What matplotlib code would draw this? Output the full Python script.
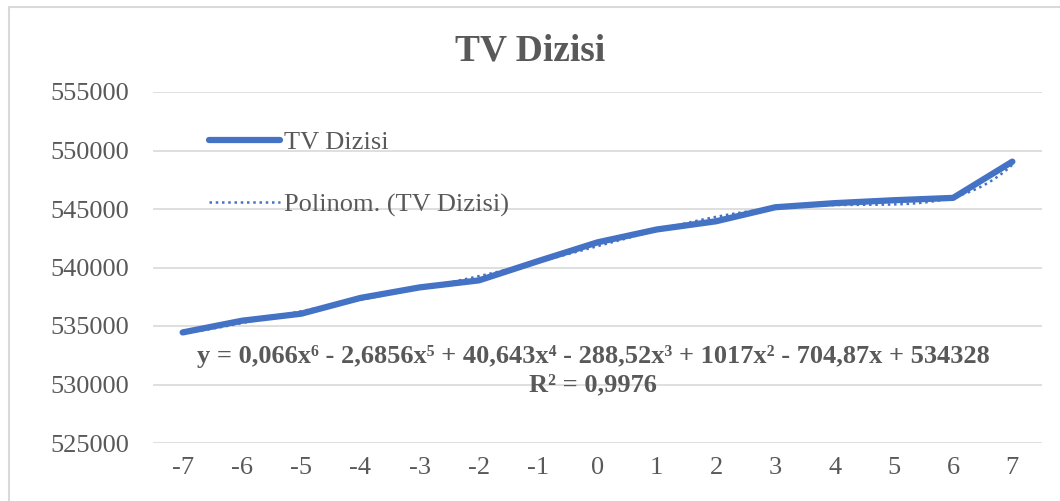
import numpy as np
import matplotlib
matplotlib.use("Agg")
import matplotlib.pyplot as plt
from matplotlib.patches import Rectangle

# veriler
x_labels = [-7, -6, -5, -4, -3, -2, -1, 0, 1, 2, 3, 4, 5, 6, 7]
tv_dizisi = [534450, 535450, 536050, 537400, 538300, 538900, 540550,
             542150, 543250, 543950, 545150, 545500, 545750, 545950, 549050]
# Excel polinom trend katsayilari (x = 1..15)
poly_coef = [0.066, -2.6856, 40.643, -288.52, 1017, -704.87, 534328]
y_ticks = [525000, 530000, 535000, 540000, 545000, 550000, 555000]

plt.rcParams['font.family'] = ['Liberation Serif', 'DejaVu Serif']
blue = '#4472C4'
gray = '#595959'

fig = plt.figure(figsize=(10.6, 5.01), dpi=100)
ax = fig.add_axes([153/1060, 1 - 443/501, (1042 - 153)/1060, (443 - 92)/501])

idx = np.arange(len(x_labels))
ax.plot(idx, tv_dizisi, color=blue, lw=4.5, solid_capstyle='round', label='TV Dizisi', zorder=3)

xs = np.linspace(0, len(x_labels) - 1, 300)
ax.plot(xs, np.polyval(poly_coef, xs + 1), color=blue, lw=1.8, ls=(0, (1, 1.5)),
        label='Polinom. (TV Dizisi)', zorder=4)

ax.set_xlim(-0.5, len(x_labels) - 0.5)
ax.set_ylim(y_ticks[0], y_ticks[-1])
ax.set_yticks(y_ticks)
ax.set_xticks(idx)
ax.set_xticklabels([str(v) for v in x_labels])
ax.tick_params(axis='both', length=0, labelsize=19, labelcolor=gray)
ax.tick_params(axis='y', pad=17)
ax.tick_params(axis='x', pad=10)
ax.grid(axis='y', color='#D9D9D9', lw=1.2)
ax.set_axisbelow(True)
for s in ax.spines.values():
    s.set_visible(False)

fig.text(0.5, 1 - 51/501, 'TV Dizisi', ha='center', va='center', fontsize=27,
         fontweight='bold', color=gray)

leg = ax.legend(loc='upper left', bbox_to_anchor=(209/1060, 1 - 131/501),
                bbox_transform=fig.transFigure, frameon=False, fontsize=19,
                labelspacing=1.45, handlelength=2.7, handletextpad=0.15,
                borderpad=0, borderaxespad=0)
for t in leg.get_texts():
    t.set_color(gray)

fig.text(593/1060, 1 - 357/501,
         'y = 0,066x⁶ - 2,6856x⁵ + 40,643x⁴ - 288,52x³ + 1017x² - 704,87x + 534328',
         ha='center', va='center', fontsize=19, fontweight='bold', color=gray)
fig.text(593/1060, 1 - 385/501, 'R² = 0,9976', ha='center', va='center',
         fontsize=19, fontweight='bold', color=gray)

fig.patches.append(Rectangle((9/1060, -0.1), 1.2, 1 - 7/501 + 0.1, transform=fig.transFigure,
                             fill=False, ec='#D9D9D9', lw=1.5))

fig.savefig('out.png', dpi=100)
